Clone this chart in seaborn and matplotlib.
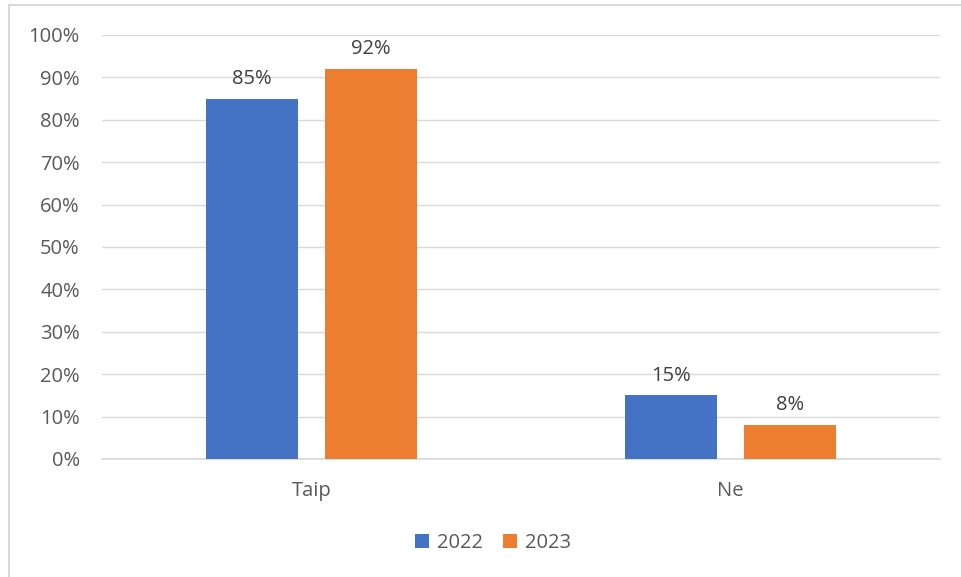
import matplotlib
matplotlib.use("Agg")
import matplotlib.pyplot as plt
import seaborn as sns
import pandas as pd
from matplotlib.patches import Rectangle
from matplotlib.ticker import PercentFormatter

categories = ["Taip", "Ne"]
years      = ["2022", "2023"]
vals_2022  = [85, 15]
vals_2023  = [92, 8]

df = pd.DataFrame({
    "answer": categories * 2,
    "year":   [years[0]] * 2 + [years[1]] * 2,
    "value":  vals_2022 + vals_2023,
})

sns.set_theme(style="white")
plt.rcParams["font.family"] = ["Open Sans", "DejaVu Sans"]
text_col = "#595959"

fig = plt.figure(figsize=(9.62, 5.77), dpi=100)
ax = fig.add_axes([102 / 962, 1 - 459 / 577, 838 / 962, 424 / 577])

sns.barplot(data=df, x="answer", y="value", hue="year", order=categories,
            palette=["#4472C4", "#ED7D31"], width=0.566, gap=0.22,
            saturation=1, linewidth=0, ax=ax, zorder=3)

for cont in ax.containers:
    ax.bar_label(cont, labels=[f"{v:.0f}%" for v in cont.datavalues],
                 padding=7, fontsize=14.5, color="#404040")

ax.set_ylim(0, 100)
ax.set_yticks(range(0, 101, 10))
ax.yaxis.set_major_formatter(PercentFormatter(decimals=0))
ax.grid(axis="y", color="#D9D9D9", linewidth=1, zorder=0)
ax.set_xlabel("")
ax.set_ylabel("")
for s in ["top", "right", "left"]:
    ax.spines[s].set_visible(False)
ax.spines["bottom"].set_color("#D9D9D9")
ax.tick_params(axis="both", length=0, labelsize=14.5, labelcolor=text_col)
ax.tick_params(axis="y", pad=16)
ax.tick_params(axis="x", pad=16)

handles, labels = ax.get_legend_handles_labels()
ax.legend(handles, labels, loc="center", bbox_to_anchor=(493 / 962, 1 - 543 / 577),
          bbox_transform=fig.transFigure, ncol=2, frameon=False, fontsize=14.5,
          handlelength=0.7, handleheight=0.7, handletextpad=0.4, columnspacing=1.0,
          labelcolor=text_col)

# outer chart frame
fig.patches.append(Rectangle((9 / 962, -0.1), 1.1, (577 - 5) / 577 + 0.1,
                             transform=fig.transFigure, fill=False,
                             edgecolor="#D9D9D9", linewidth=1.5))

fig.savefig("out.png", dpi=100)
